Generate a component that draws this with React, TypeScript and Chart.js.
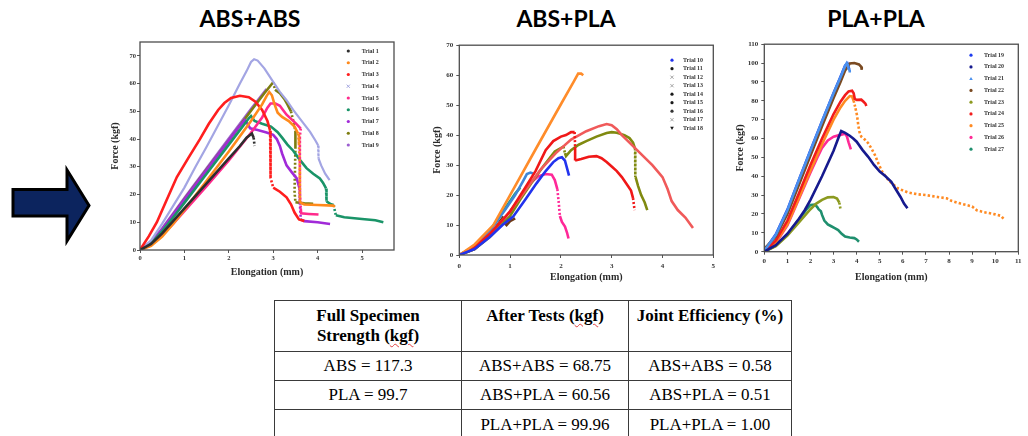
import React, { useEffect, useRef } from "react";
import { Chart, registerables } from "chart.js";

Chart.register(...registerables);

type Pt = [number, number];

// ---------------- ABS+ABS (Trials 1-9) ----------------
const absAbsLabels = ["Trial 1", "Trial 2", "Trial 3", "Trial 4", "Trial 5", "Trial 6", "Trial 7", "Trial 8", "Trial 9"];
const trial1: Pt[] = [[0,0],[0.25,2.2],[0.5,6],[0.75,10.5],[1,15],[1.5,24],[2,33],[2.25,37.5],[2.4,40.5],[2.52,42],[2.56,40.5],[2.58,37.5]];
const trial2: Pt[] = [[0,0],[0.25,1.5],[0.5,4.8],[0.75,9.5],[1,14.5],[1.5,25],[2,35.5],[2.5,46.5],[2.75,52.5],[2.85,55.5],[2.91,57],[2.97,55.8],[3.03,52.5],[3.1,49.5],[3.2,48],[3.35,46.5],[3.48,44.5],[3.56,42],[3.58,38],[3.6,30],[3.6,23],[3.6,17.2],[3.7,16.4],[4.0,16.2],[4.35,16],[4.39,15.6]];
const trial3: Pt[] = [[0,0],[0.2,5],[0.38,10],[0.6,18],[0.83,26.3],[1.1,33.5],[1.35,40],[1.55,45.5],[1.76,50.5],[1.9,53],[2.05,54.8],[2.25,55.6],[2.45,55.1],[2.6,53.5],[2.75,50.5],[2.87,46.5],[2.93,43],[2.93,35],[2.95,26],[3.0,22.5],[3.15,21],[3.3,19],[3.4,16.5],[3.48,13.5],[3.58,11],[3.7,10.5]];
const trial4: Pt[] = [[0,0],[0.25,3.5],[0.5,9.5],[0.75,16],[1,22.5],[1.25,30],[1.5,37.2],[1.75,44.7],[2,52.2],[2.25,60],[2.4,64.5],[2.5,67.8],[2.57,68.8],[2.65,68.3],[2.8,65.5],[3.0,60.6],[3.15,57],[3.3,54],[3.45,50.5],[3.57,48],[3.7,45.3],[3.83,42.6],[3.95,39.5],[4.01,37.8],[4.02,33],[4.08,30.5],[4.17,27.5],[4.27,25.2]];
const trial5: Pt[] = [[0,0],[0.25,1.8],[0.5,5.3],[0.75,9.5],[1,14],[1.5,23],[2,32.3],[2.5,42.3],[2.75,47.8],[2.87,51.3],[2.94,52.8],[3.05,52.8],[3.15,52],[3.22,50.5],[3.3,48.8],[3.42,47],[3.52,45.5],[3.62,43.8],[3.6,41],[3.6,33],[3.6,21],[3.62,15],[3.63,13.2],[3.8,13],[4.02,12.8]];
const trial6: Pt[] = [[0,0],[0.25,2.3],[0.5,6.8],[0.75,11.8],[1,17],[1.5,27.5],[2,38],[2.3,44.3],[2.45,47.5],[2.5,48.3],[2.58,46.5],[2.75,45.5],[2.95,44.5],[3.1,42.5],[3.2,40.5],[3.32,38],[3.45,35.8],[3.6,32.5],[3.75,29.5],[3.9,27.5],[4.05,25.8],[4.12,24.3],[4.19,22.2],[4.2,17.5],[4.3,16.5],[4.36,16.2],[4.41,12.5],[4.6,11.8],[5.0,11.2],[5.3,10.7],[5.48,10]];
const trial7: Pt[] = [[0,0],[0.25,2.6],[0.5,7.5],[0.75,12.8],[1,18.2],[1.5,28.8],[2,39.5],[2.2,43.8],[2.36,46.8],[2.42,45.5],[2.48,43.9],[2.65,43.3],[2.85,42.4],[3.0,41.5],[3.08,40],[3.15,37.5],[3.2,34.8],[3.3,30.5],[3.42,28],[3.53,25.8],[3.59,22.3],[3.6,17],[3.62,11],[3.7,10.4],[4.0,10],[4.28,9.4]];
const trial8: Pt[] = [[0,0],[0.25,2.5],[0.5,7.3],[0.75,12.8],[1,18.3],[1.5,29],[2,39.5],[2.5,50.2],[2.8,56.5],[3.0,60.5],[3.04,57.8],[3.15,56.5],[3.25,54.5],[3.32,52.5],[3.4,50],[3.46,46],[3.5,43],[3.5,36.5],[3.48,21],[3.5,17.2],[3.7,16.8],[3.9,16.7]];
const trial9: Pt[] = [[0,0],[0.25,2.8],[0.5,7.8],[0.75,13.2],[1,18.7],[1.5,29.5],[2,40.2],[2.5,50.8],[2.85,58]];
const absAbsData = [trial1, trial2, trial3, trial4, trial5, trial6, trial7, trial8, trial9];
const absAbsColors = ["#2e2e2e", "#ff8a1c", "#ff1e1e", "#a3a5e3", "#ff2a8c", "#1a9468", "#a12ad8", "#7d7d10", "#9c5fd0"];
const absAbsMarkerColors = ["#2e2e2e", "#ff8a1c", "#ff1e1e", "#9a9cdc", "#ff2a8c", "#1a9468", "#a12ad8", "#7d7d10", "#9c5fd0"];
const absAbsMarkers = ["circle", "circle", "circle", "cross", "circle", "circle", "circle", "circle", "circle"];

// ---------------- ABS+PLA (Trials 10-18) ----------------
const absPlaLabels = ["Trial 10", "Trial 11", "Trial 12", "Trial 13", "Trial 14", "Trial 15", "Trial 16", "Trial 17", "Trial 18"];
const trial10: Pt[] = [[0,0],[0.3,2],[0.6,6],[0.85,10],[1.06,12.8],[1.3,18.5],[1.52,23.9],[1.7,28],[1.85,31],[1.95,32.3],[2.02,32.6],[2.08,31.5],[2.12,29],[2.16,26.5]];
const trial11: Pt[] = [[0,0],[0.3,3.5],[0.67,10],[1,20],[1.5,35.2],[2,50.3],[2.25,57.8],[2.34,60.5],[2.4,60.5],[2.44,60]];
const trial12: Pt[] = [[0,0],[0.3,2.5],[0.6,7],[1,14.5],[1.3,22.5],[1.5,28],[1.7,35],[1.85,38],[2.0,39.5],[2.1,40],[2.2,41],[2.27,41],[2.28,36],[2.28,31.5],[2.4,32],[2.55,32.8],[2.7,33],[2.8,32.3],[2.9,31],[3.0,29.5],[3.1,28],[3.2,26],[3.3,23.5],[3.38,21.5],[3.42,19],[3.45,15]];
const trial13: Pt[] = [[0,0],[0.3,2.5],[0.6,7],[1,14.5],[1.3,21.5],[1.6,28.5],[1.9,34],[2.2,38.5],[2.5,41.3],[2.75,43],[2.9,43.7],[3.0,43.3],[3.1,42],[3.2,40],[3.35,37.5],[3.5,35],[3.65,32.5],[3.8,30],[3.9,28],[4.0,26],[4.1,22],[4.18,18],[4.3,15],[4.45,12.5],[4.6,9]];
const trial14: Pt[] = [[0,0],[0.3,2],[0.6,6],[0.83,10],[1.0,13],[1.2,18.5],[1.42,24],[1.65,29.5],[1.88,34.5],[2.05,36.2],[2.08,34],[2.1,33],[2.2,35],[2.35,36.8],[2.5,38],[2.7,39.5],[2.9,40.7],[3.0,41],[3.1,40.8],[3.25,40],[3.35,39],[3.42,37.5],[3.46,35.5],[3.46,30],[3.47,26],[3.52,23],[3.58,20],[3.65,17.5],[3.7,15]];
const trial15: Pt[] = [[0,0],[0.3,2.5],[0.6,7],[0.9,12.5],[1.2,19],[1.4,24],[1.55,26.2],[1.7,27],[1.82,26.8],[1.88,25],[1.93,22],[1.96,17],[1.98,13],[2.02,11],[2.08,9.5],[2.12,7.5],[2.15,5.5]];
const trial16: Pt[] = [[0,0],[0.3,3],[0.6,8],[0.9,15],[1.1,20],[1.25,24.5],[1.33,27],[1.4,27.5],[1.45,27.2]];
const trial17: Pt[] = [[0,0],[0.3,3],[0.6,8],[0.9,15.5],[1.1,20.5],[1.2,22.5]];
const trial18: Pt[] = [[0,0],[0.3,2],[0.6,6.5],[0.87,12.8],[0.9,10.5],[0.93,10],[1.0,11.3],[1.1,12.2]];
const absPlaData = [trial10, trial11, trial12, trial13, trial14, trial15, trial16, trial17, trial18];
const absPlaColors = ["#2233ee", "#ff8c2a", "#f01818", "#f05a5a", "#808a10", "#ff2898", "#3f86d8", "#2c9f6e", "#6e3a18"];
const absPlaMarkerColors = ["#2233ee", "#1a1a1a", "#9a9a9a", "#9a9a9a", "#1a1a1a", "#1a1a1a", "#333333", "#9a9a9a", "#1a1a1a"];
const absPlaMarkers = ["circle", "circle", "cross", "cross", "circle", "circle", "circle", "cross", "triangle"];

// ---------------- PLA+PLA (Trials 19-27) ----------------
const plaPlaLabels = ["Trial 19", "Trial 20", "Trial 21", "Trial 22", "Trial 23", "Trial 24", "Trial 25", "Trial 26", "Trial 27"];
const trial19: Pt[] = [[0,0.5],[0.5,9.2],[1,22.3],[1.5,38.2],[2,53.8],[2.5,69.2],[3,84.2],[3.3,92.8],[3.5,98.7],[3.6,99.8],[3.65,98],[3.68,96.5]];
const trial20: Pt[] = [[0,0],[0.5,3.5],[1,9.5],[1.5,17.5],[1.75,22],[2,27.5],[2.5,40],[3,53.5],[3.2,60],[3.33,64],[3.5,63],[3.7,61.5],[3.85,60],[4.0,58.3],[4.25,54],[4.5,50.3],[4.75,46],[5.0,42.5],[5.25,40],[5.5,37],[5.7,33],[5.9,29],[6.05,25.5],[6.2,23]];
const trial21: Pt[] = [[0,0.5],[0.5,9],[1,22],[1.5,38],[2,53.5],[2.5,69],[3,84],[3.3,92.5],[3.5,98.5],[3.57,100],[3.62,99],[3.65,97],[3.7,96],[3.7,95]];
const trial22: Pt[] = [[0,1.5],[0.5,8],[1,20],[1.5,35.5],[2,51],[2.5,66.5],[3,81.5],[3.3,90],[3.5,96],[3.7,99.8],[3.9,100],[4.1,99.3],[4.2,98],[4.22,96.5]];
const trial23: Pt[] = [[0,0],[0.5,3],[1,8.5],[1.5,15.5],[2,22.5],[2.25,25.5],[2.5,27.5],[2.75,28.8],[3.0,29],[3.15,28.2],[3.25,26],[3.3,22.5]];
const trial24: Pt[] = [[0,0],[0.5,6],[1,16.5],[1.5,31],[2,46],[2.5,60],[3,73],[3.3,79.5],[3.5,83],[3.65,85],[3.8,85.3],[3.87,84],[3.92,81],[4.0,80.5],[4.2,80.6],[4.3,79.5],[4.38,78.5],[4.42,77.3]];
const trial25: Pt[] = [[0,0],[0.5,5],[1,14.5],[1.5,28.5],[2,43],[2.5,57],[3,70],[3.3,76.5],[3.5,80],[3.7,82.5],[3.8,82.3],[3.87,80],[3.95,76],[4.02,72],[4.07,67],[4.12,63.5],[4.2,61],[4.35,59.5],[4.5,57.5],[4.65,54.5],[4.8,51],[4.95,46.5],[5.1,42.5],[5.3,39],[5.5,36.5],[5.8,33.5],[6.2,31.5],[6.6,30.5],[7.0,30],[7.5,29],[7.9,28.3],[8.1,27],[8.5,25.5],[9.0,24],[9.2,22],[9.5,21],[10.0,19.8],[10.25,19],[10.4,17]];
const trial26: Pt[] = [[0,0],[0.5,4.5],[1,14],[1.5,28],[2,42],[2.3,50],[2.5,55],[2.75,59],[3.0,61],[3.25,61.8],[3.5,62.5],[3.58,61],[3.65,58],[3.75,54.2]];
const trial27: Pt[] = [[0,0],[0.5,3.2],[1,9],[1.5,17],[1.8,22],[2.0,24.8],[2.2,25],[2.3,23.5],[2.35,22.5],[2.45,21.5],[2.5,19.5],[2.6,16.5],[2.75,14.5],[2.9,13.5],[3.05,12.5],[3.2,11.5],[3.35,9.5],[3.5,8],[3.7,7.5],[3.9,7.2],[4.0,6.5],[4.1,5.3]];
const plaPlaData = [trial19, trial20, trial21, trial22, trial23, trial24, trial25, trial26, trial27];
const plaPlaColors = ["#1d3cf0", "#161a8e", "#4a90ee", "#7a4a22", "#8c9a20", "#f21c1c", "#ff8a22", "#ff2a96", "#1f8f6e"];
const plaPlaMarkers = ["circle", "circle", "triangleUp", "circle", "circle", "circle", "circle", "circle", "circle"];
const plaPlaDotFrom: (number | undefined)[] = [undefined, undefined, undefined, undefined, undefined, undefined, 3.95, undefined, undefined];

// ---------------- Table ----------------
const fullStrength = ["ABS = 117.3", "PLA = 99.7", ""];
const afterTests = ["ABS+ABS = 68.75", "ABS+PLA = 60.56", "PLA+PLA = 99.96"];
const jointEfficiency = ["ABS+ABS = 0.58", "ABS+PLA = 0.51", "PLA+PLA = 1.00"];

// ---------------- Panel specs ----------------
interface SeriesSpec { label: string; data: Pt[]; color: string; marker: string; markerColor: string; dotFrom?: number; order?: number; width?: number }
interface PanelSpec {
  left: number; top: number; width: number; height: number;
  padTop: number; padRight: number; yAxisWidth: number; xAxisHeight: number;
  xMax: number; yMax: number; tickSize: number; yTickPad: number; xTickPad: number;
  legend: { markerDx: number; textDx: number; top: number; spacing: number };
  series: SeriesSpec[];
}

function buildSeries(labels: string[], data: Pt[][], colors: string[], markerColors: string[], markers: string[], dotFrom?: (number | undefined)[]): SeriesSpec[] {
  return labels.map((label, i) => ({
    label, data: data[i], color: colors[i], marker: markers[i], markerColor: markerColors[i], dotFrom: dotFrom ? dotFrom[i] : undefined,
  }));
}

const panel1: PanelSpec = {
  left: 109, top: 35, width: 291, height: 243,
  padTop: 7, padRight: 6, yAxisWidth: 31, xAxisHeight: 28,
  xMax: 5.72, yMax: 75, tickSize: 6.5, yTickPad: 1, xTickPad: 1.5,
  legend: { markerDx: 45.7, textDx: 32.3, top: 9, spacing: 11.75 },
  series: buildSeries(absAbsLabels, absAbsData, absAbsColors, absAbsMarkerColors, absAbsMarkers).map((s, i) => (i === 3 ? { ...s, width: 2.2 } : s)),
};
const panel2: PanelSpec = {
  left: 431, top: 38, width: 289, height: 245,
  padTop: 7, padRight: 6.7, yAxisWidth: 28.3, xAxisHeight: 28,
  xMax: 5, yMax: 70, tickSize: 7, yTickPad: 3, xTickPad: 3.5,
  legend: { markerDx: 41.3, textDx: 30.3, top: 15, spacing: 8.5 },
  series: buildSeries(absPlaLabels, absPlaData, absPlaColors, absPlaMarkerColors, absPlaMarkers),
};
const panel3: PanelSpec = {
  left: 734, top: 37, width: 294, height: 246,
  padTop: 7, padRight: 9.7, yAxisWidth: 30.3, xAxisHeight: 31.3,
  xMax: 11, yMax: 110, tickSize: 7, yTickPad: 3, xTickPad: 1.8,
  legend: { markerDx: 47.3, textDx: 34.3, top: 11, spacing: 11.75 },
  series: buildSeries(plaPlaLabels, plaPlaData, plaPlaColors, plaPlaColors, plaPlaMarkers, plaPlaDotFrom).map((s, i) => (i === 0 ? { ...s, order: 1 } : s)),
};

const SERIF = '"Liberation Serif", "Times New Roman", serif';

function ChartPanel({ spec }: { spec: PanelSpec }) {
  const ref = useRef<HTMLCanvasElement>(null);
  useEffect(() => {
    const canvas = ref.current;
    if (!canvas) return;
    const legendPlugin = {
      id: "panelLegend",
      afterDraw(chart: any) {
        const { ctx, chartArea } = chart;
        ctx.save();
        ctx.font = `bold 6px ${SERIF}`;
        ctx.textBaseline = "middle";
        ctx.textAlign = "left";
        spec.series.forEach((s, i) => {
          const y = chartArea.top + spec.legend.top + i * spec.legend.spacing;
          const mx = chartArea.right - spec.legend.markerDx;
          ctx.fillStyle = s.markerColor;
          ctx.strokeStyle = s.markerColor;
          ctx.lineWidth = 0.9;
          ctx.beginPath();
          if (s.marker === "cross") {
            ctx.moveTo(mx - 1.6, y - 1.6); ctx.lineTo(mx + 1.6, y + 1.6);
            ctx.moveTo(mx + 1.6, y - 1.6); ctx.lineTo(mx - 1.6, y + 1.6);
            ctx.stroke();
          } else if (s.marker === "triangle") {
            ctx.moveTo(mx - 1.8, y - 1.4); ctx.lineTo(mx + 1.8, y - 1.4); ctx.lineTo(mx, y + 1.8); ctx.closePath(); ctx.fill();
          } else if (s.marker === "triangleUp") {
            ctx.moveTo(mx - 1.8, y + 1.4); ctx.lineTo(mx + 1.8, y + 1.4); ctx.lineTo(mx, y - 1.8); ctx.closePath(); ctx.fill();
          } else {
            ctx.arc(mx, y, 1.6, 0, Math.PI * 2); ctx.fill();
          }
          ctx.fillStyle = "#333";
          ctx.fillText(s.label, chartArea.right - spec.legend.textDx, y);
        });
        ctx.restore();
      },
    };
    const framePlugin = {
      id: "panelFrame",
      afterDraw(chart: any) {
        const { ctx, chartArea } = chart;
        ctx.save();
        ctx.strokeStyle = "#4d4d4d";
        ctx.lineWidth = 1.3;
        ctx.strokeRect(chartArea.left, chartArea.top, chartArea.right - chartArea.left, chartArea.bottom - chartArea.top);
        ctx.restore();
      },
    };
    const tickFont = { family: SERIF, size: spec.tickSize, weight: "bold" as const };
    const titleFont = { family: SERIF, size: 10, weight: "bold" as const };
    const chart = new Chart(canvas, {
      type: "line",
      data: {
        datasets: spec.series.map((s) => ({
          label: s.label,
          data: s.data.map(([x, y]) => ({ x, y })),
          borderColor: s.color,
          backgroundColor: s.color,
          borderWidth: s.width ?? 2.6,
          pointRadius: 0,
          fill: false,
          tension: 0,
          order: s.order ?? 0,
          segment: {
            borderDash: (ctx: any) => {
              const xv = s.data[ctx.p0DataIndex]?.[0] ?? 0;
              if (s.dotFrom !== undefined && xv >= s.dotFrom) return [2.4, 2.2];
              const dx = Math.abs(ctx.p1.x - ctx.p0.x);
              const dy = Math.abs(ctx.p1.y - ctx.p0.y);
              return dy > 6 && dy > 4 * dx ? [2, 2] : undefined;
            },
          },
        })),
      },
      options: {
        animation: false,
        responsive: false,
        maintainAspectRatio: false,
        devicePixelRatio: 1,
        events: [],
        layout: { padding: { top: spec.padTop, right: spec.padRight, left: 0, bottom: 0 } },
        plugins: { legend: { display: false }, tooltip: { enabled: false } },
        scales: {
          x: {
            type: "linear",
            min: 0,
            max: spec.xMax,
            ticks: { stepSize: 1, includeBounds: false, maxTicksLimit: 30, autoSkip: false, font: tickFont, color: "#333", padding: spec.xTickPad, maxRotation: 0 },
            grid: { drawOnChartArea: false, drawTicks: true, tickLength: 3, color: "#555" },
            border: { display: false },
            title: { display: true, text: "Elongation (mm)", font: titleFont, color: "#2a2a2a", padding: 0 },
            afterFit: (s: any) => { s.height = spec.xAxisHeight; },
          },
          y: {
            type: "linear",
            min: 0,
            max: spec.yMax,
            ticks: { stepSize: 10, includeBounds: false, maxTicksLimit: 30, autoSkip: false, font: tickFont, color: "#333", padding: spec.yTickPad },
            grid: { drawOnChartArea: false, drawTicks: true, tickLength: 3, color: "#555" },
            border: { display: false },
            title: { display: true, text: "Force (kgf)", font: titleFont, color: "#2a2a2a", padding: 0 },
            afterFit: (s: any) => { s.width = spec.yAxisWidth; },
          },
        },
      } as any,
      plugins: [legendPlugin, framePlugin],
    });
    return () => chart.destroy();
  }, [spec]);
  return (
    <canvas
      ref={ref}
      width={spec.width}
      height={spec.height}
      style={{ position: "absolute", left: spec.left, top: spec.top, width: spec.width, height: spec.height }}
    />
  );
}

const kgf = (
  <span style={{ textDecoration: "underline wavy #e04040", textDecorationThickness: "1px", textUnderlineOffset: "2px" }}>kgf</span>
);

export default function App() {
  const titleStyle = (cx: number): React.CSSProperties => ({
    position: "absolute", left: cx - 100, width: 200, top: 4, textAlign: "center",
    fontFamily: 'Lato, "Open Sans", sans-serif', fontWeight: 700, fontSize: 23, lineHeight: "28px", color: "#000",
  });
  const cell: React.CSSProperties = { border: "1px solid #3a3a3a", padding: 0, textAlign: "center", verticalAlign: "middle", lineHeight: "20px", fontFamily: SERIF, fontSize: 17 };
  const head: React.CSSProperties = { ...cell, fontWeight: 700, verticalAlign: "top", paddingTop: 5 };
  return (
    <div style={{ position: "absolute", left: 0, top: 0, width: 1028, height: 436, overflow: "hidden", background: "#fff" }}>
      <div style={titleStyle(250)}>ABS+ABS</div>
      <div style={titleStyle(566)}>ABS+PLA</div>
      <div style={titleStyle(876)}>PLA+PLA</div>
      <svg style={{ position: "absolute", left: 0, top: 160 }} width={100} height={90}>
        <polygon
          points="13,29.5 67,29.5 67,10 89,45.5 67,81 67,56 13,56"
          fill="#0c245e" stroke="#000" strokeWidth={3} strokeLinejoin="miter"
        />
      </svg>
      <ChartPanel spec={panel1} />
      <ChartPanel spec={panel2} />
      <ChartPanel spec={panel3} />
      <table
        style={{
          position: "absolute", left: 274, top: 300, borderCollapse: "collapse", tableLayout: "fixed", width: 517,
          fontFamily: SERIF, fontSize: 17, color: "#000",
        }}
      >
        <colgroup>
          <col style={{ width: 187 }} />
          <col style={{ width: 167 }} />
          <col style={{ width: 163 }} />
        </colgroup>
        <tbody>
          <tr style={{ height: 51 }}>
            <td style={head}>Full Specimen<br />Strength ({kgf})</td>
            <td style={head}>After Tests ({kgf})</td>
            <td style={head}>Joint Efficiency (%)</td>
          </tr>
          {fullStrength.map((v, i) => (
            <tr key={i} style={{ height: i === 2 ? 31 : 29 }}>
              <td style={cell}>{v}</td>
              <td style={cell}>{afterTests[i]}</td>
              <td style={cell}>{jointEfficiency[i]}</td>
            </tr>
          ))}
        </tbody>
      </table>
    </div>
  );
}
